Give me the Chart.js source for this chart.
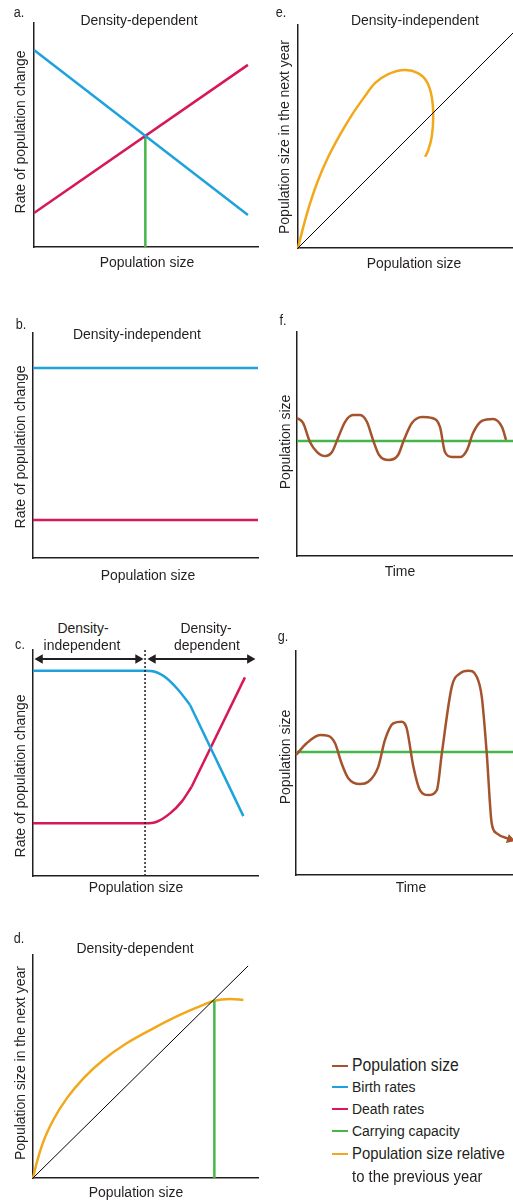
<!DOCTYPE html>
<html><head><meta charset="utf-8">
<script src="https://cdn.jsdelivr.net/npm/chart.js@4.4.1/dist/chart.umd.min.js"></script>
<style>
html,body{margin:0;padding:0;background:#fff;width:513px;height:1200px;overflow:hidden;position:relative;font-family:"Liberation Sans",Arial,sans-serif;color:#231f20}
.t{position:absolute;white-space:nowrap;transform:translate(-50%,-50%) scaleX(0.9);font-size:15.5px;line-height:1}
.r{transform:translate(-50%,-50%) rotate(-90deg) scaleX(0.9)}
.p{font-size:14px}
canvas{position:absolute}
.lg{position:absolute;left:332px;font-size:15.5px;line-height:18px;white-space:nowrap}
.lg .sw{display:inline-block;width:16px;height:2.5px;vertical-align:middle;margin-right:4px;position:relative;top:-1px}
.lg .tx{display:inline-block;transform:scaleX(0.9);transform-origin:0 50%}
</style></head><body>
<script>
// ---------- colours ----------
const BLUE = '#1ea2dc', RED = '#d6185b', GREEN = '#45b649', ORANGE = '#f2a81a', BROWN = '#a4532c', INK = '#231f20';

// ---------- data (0-100 relative units on each panel) ----------
// a. density-dependent rates
const aX = [0, 95.5];
const aBirth = [87.9, 14.3];
const aDeath = [15.2, 81.3];
const aKx = [49.7, 49.7];
const aKy = [0, 49.6];

// b. density-independent rates
const bX = [0, 100];
const bBirth = [84.4, 84.4];
const bDeath = [16.9, 16.9];

// c. mixed (curved shoulder, then straight segment)
const cBirthCurveX = [0, 49.8, 54.2, 59.4, 64.6, 69.8];
const cBirthCurveY = [90.8, 90.8, 90.4, 87.5, 82.3, 75.7];
const cBirthLineX = [69.8, 93.5];
const cBirthLineY = [75.7, 26.5];
const cDeathCurveX = [0, 49.8, 55.0, 60.9, 66.1, 70.5];
const cDeathCurveY = [23.3, 23.3, 24.0, 27.7, 32.9, 39.5];
const cDeathLineX = [70.5, 94.2];
const cDeathLineY = [39.5, 87.9];
const cDivX = [49.8, 49.8];
const cDivY = [0, 100];
const cArrowLeftX = [3.1, 46.7];
const cArrowRightX = [53.3, 96.4];
const cArrowY = [96.0, 96.0];

// d. density-dependent next-year size
const dDiagX = [0, 95.6];
const dDiagY = [0, 95.1];
const dRelX = [0, 1.6, 4.6, 9.0, 15.0, 22.4, 31.2, 41.6, 53.5, 65.3, 75.7, 80.6, 87.6, 93.5];
const dRelY = [0, 6.6, 16.3, 26.0, 35.7, 44.7, 52.9, 60.4, 67.1, 73.1, 77.6, 79.5, 80.3, 79.8];
const dKx = [80.6, 80.6];
const dKy = [0, 79.5];

// e. density-independent next-year size
const eDiagX = [0, 100];
const eDiagY = [0, 96.4];
const eRelX = [0, 2.5, 5.6, 9.4, 14.1, 19.5, 25.0, 30.4, 35.8, 42.0, 49.8, 56.0, 59.9, 62.2, 62.9, 62.2, 60.6, 59.1];
const eRelY = [0, 9.6, 20.0, 30.5, 40.9, 50.7, 59.6, 67.1, 73.9, 78.0, 79.8, 78.3, 74.6, 67.8, 58.9, 49.9, 43.9, 40.9];

// f. population oscillating around K
const fPopX = [0, 2.8, 6.0, 9.3, 13.0, 16.2, 19.0, 22.2, 25.9, 29.2, 32.4, 35.2, 38.0, 42.6, 46.8, 49.5, 53.2, 57.9, 62.5, 66.2, 68.5, 71.8, 75.5, 78.7, 81.5, 85.6, 90.7, 94.9, 96.8];
const fPopY = [61.6, 59.4, 50.9, 46.4, 44.6, 46.4, 52.7, 59.8, 62.9, 62.9, 59.8, 51.8, 45.1, 42.9, 45.1, 51.8, 59.4, 62.1, 61.6, 57.6, 46.4, 44.2, 44.2, 47.3, 54.9, 60.3, 61.2, 57.6, 51.8];
const fKx = [0, 100];
const fKy = [51.3, 51.3];

// g. growing oscillations and crash
const gPopX = [0, 4.9, 11.1, 14.9, 18.0, 21.0, 24.1, 29.5, 33.3, 37.9, 41.0, 44.8, 48.7, 51.0, 54.1, 57.1, 61.0, 64.9, 67.2, 71.8, 75.6, 79.4, 83.3, 85.6, 87.9, 90.2, 92.5, 98.6];
const gPopY = [53.6, 58.8, 62.5, 62.1, 58.8, 49.9, 43.2, 40.6, 41.6, 48.3, 60.3, 67.7, 68.4, 65.5, 48.3, 37.9, 35.7, 37.9, 54.3, 84.1, 90.0, 91.2, 88.5, 79.6, 54.3, 23.0, 18.6, 15.9];
const gKx = [0, 100];
const gKy = [54.9, 54.9];

// ---------- helpers ----------
function series(xs, ys, color, width, extra) {
  return Object.assign({
    data: xs.map((x, i) => ({ x: x, y: ys[i] })),
    showLine: true, borderColor: color, backgroundColor: color,
    borderWidth: width, pointRadius: 0, pointHoverRadius: 0, clip: false, fill: false
  }, extra || {});
}
function panel(box, datasets) {
  const pad = 12;
  const c = document.createElement('canvas');
  c.width = box[2] + 2 * pad; c.height = box[3] + 2 * pad;
  c.style.left = (box[0] - pad) + 'px'; c.style.top = (box[1] - pad) + 'px';
  document.body.appendChild(c);
  const axis = {
    type: 'linear', min: 0, max: 100,
    ticks: { display: false },
    grid: { display: false, drawTicks: false },
    border: { display: true, color: INK, width: 1.5 }
  };
  new Chart(c, {
    type: 'scatter',
    data: { datasets: datasets },
    options: {
      responsive: false, animation: false, devicePixelRatio: 1,
      layout: { padding: pad },
      plugins: { legend: { display: false }, tooltip: { enabled: false } },
      scales: { x: Object.assign({}, axis), y: Object.assign({}, axis) }
    }
  });
}
function label(txt, cx, cy, cls) {
  const d = document.createElement('div');
  d.className = 't ' + (cls || '');
  d.textContent = txt;
  d.style.left = cx + 'px'; d.style.top = cy + 'px';
  document.body.appendChild(d);
}

// ---------- panels ----------
panel([34, 23, 224, 224], [
  series(aX, aBirth, BLUE, 2.5),
  series(aX, aDeath, RED, 2.5),
  series(aKx, aKy, GREEN, 2.5)
]);
panel([33, 333, 225, 225], [
  series(bX, bBirth, BLUE, 2.5),
  series(bX, bDeath, RED, 2.5)
]);
panel([33, 650, 225, 226], [
  series(cDivX, cDivY, INK, 1.5, { borderDash: [2, 2] }),
  series(cBirthCurveX, cBirthCurveY, BLUE, 2.5, { cubicInterpolationMode: 'monotone' }),
  series(cBirthLineX, cBirthLineY, BLUE, 2.5),
  series(cDeathCurveX, cDeathCurveY, RED, 2.5, { cubicInterpolationMode: 'monotone' }),
  series(cDeathLineX, cDeathLineY, RED, 2.5),
  series(cArrowLeftX, cArrowY, INK, 2, { pointStyle: 'triangle', pointRadius: 5.5, rotation: [-90, 90], pointBorderWidth: 0, pointBackgroundColor: INK }),
  series(cArrowRightX, cArrowY, INK, 2, { pointStyle: 'triangle', pointRadius: 5.5, rotation: [-90, 90], pointBorderWidth: 0, pointBackgroundColor: INK })
]);
panel([33, 955, 225, 223], [
  series(dDiagX, dDiagY, '#000', 1),
  series(dKx, dKy, GREEN, 2.5),
  series(dRelX, dRelY, ORANGE, 2.5, { cubicInterpolationMode: 'monotone' })
]);
panel([298, 25, 215, 223], [
  series(eDiagX, eDiagY, '#000', 1),
  series(eRelX, eRelY, ORANGE, 2.5, { tension: 0.3 })
]);
panel([297, 332, 216, 224], [
  series(fPopX, fPopY, BROWN, 2.5, { cubicInterpolationMode: 'monotone' }),
  series(fKx, fKy, GREEN, 2.5)
]);
const gRad = gPopX.map((v, i) => i === gPopX.length - 1 ? 5.5 : 0);
const gRot = gPopX.map(() => 108);
panel([296, 651, 217, 224], [
  series(gPopX, gPopY, BROWN, 2.5, { cubicInterpolationMode: 'monotone', pointStyle: 'triangle', pointRadius: gRad, rotation: gRot, pointBorderWidth: 0, pointBackgroundColor: BROWN }),
  series(gKx, gKy, GREEN, 2.5)
]);

// ---------- text ----------
label('a.', 19, 12, 'p');
label('Density-dependent', 139, 20);
label('Rate of population change', 20, 132, 'r');
label('Population size', 147, 262);

label('e.', 281, 12, 'p');
label('Density-independent', 415, 20);
label('Population size in the next year', 284, 137, 'r');
label('Population size', 414, 263);

label('b.', 21, 324, 'p');
label('Density-independent', 137, 334);
label('Rate of population change', 20, 447, 'r');
label('Population size', 148, 575);

label('f.', 283, 320, 'p');
label('Population size', 285, 442, 'r');
label('Time', 400, 571);

label('c.', 20, 644, 'p');
label('Density-', 83, 628);
label('independent', 82, 645);
label('Density-', 206, 628);
label('dependent', 207, 645);
label('Rate of population change', 20, 776, 'r');
label('Population size', 136, 887);

label('g.', 283, 636, 'p');
label('Population size', 285, 757, 'r');
label('Time', 411, 887);

label('d.', 19, 938, 'p');
label('Density-dependent', 135, 948);
label('Population size in the next year', 20, 1063, 'r');
label('Population size', 136, 1192);

// ---------- legend ----------
const legendNames = ['Population size', 'Birth rates', 'Death rates', 'Carrying capacity', 'Population size relative'];
const legendColors = [BROWN, BLUE, RED, GREEN, ORANGE];
const legendY = [1065, 1087, 1109, 1131, 1153];
const legendSize = [17.5, 15.5, 15.5, 15.5, 16.5];
legendNames.forEach((n, i) => {
  const d = document.createElement('div');
  d.className = 'lg';
  d.style.top = (legendY[i] - 9) + 'px';
  const s = document.createElement('span');
  s.className = 'sw';
  s.style.background = legendColors[i];
  d.appendChild(s);
  const t = document.createElement('span');
  t.className = 'tx';
  t.style.fontSize = legendSize[i] + 'px';
  t.textContent = n;
  d.appendChild(t);
  document.body.appendChild(d);
});
const cont = document.createElement('div');
cont.className = 'lg';
cont.style.left = '352px';
cont.style.top = (1176 - 9) + 'px';
const ct = document.createElement('span');
ct.className = 'tx';
ct.style.fontSize = '16.5px';
ct.textContent = 'to the previous year';
cont.appendChild(ct);
document.body.appendChild(cont);
</script>
</body></html>
